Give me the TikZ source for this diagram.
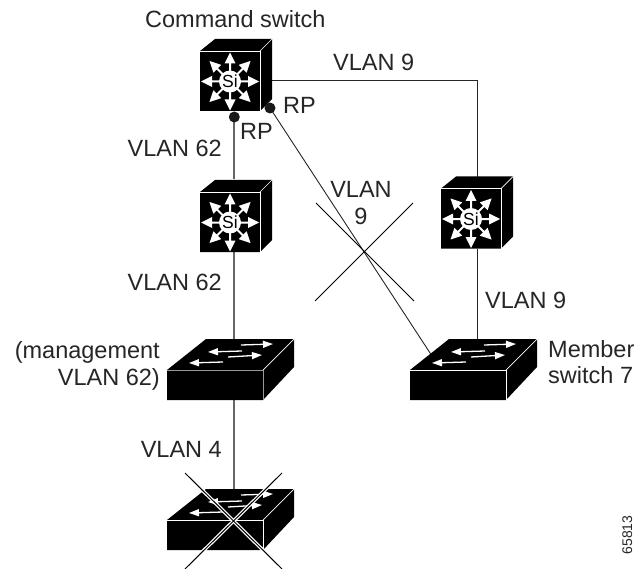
\documentclass[tikz,border=0pt]{standalone}
\usepackage{fontspec}
\setmainfont{Liberation Sans}
\usetikzlibrary{arrows.meta}
\tikzset{
  lbl/.style={font=\fontsize{23.5}{27}\selectfont, inner sep=0pt, text=black!85},
  wire/.style={draw=black!60, line width=1.7pt},
  thinwire/.style={draw=black!85, line width=.9pt},
  cross/.style={draw=black, line width=1pt},
  rpdot/.style={circle, fill=black!90, inner sep=0pt, minimum size=11pt},
  pt/.style={inner sep=0pt, outer sep=0pt, minimum size=0pt},
  swarrow/.style={draw=white, line width=1.3pt, -{Triangle[length=10pt,width=7pt,fill=white]}},
}
\newcommand{\siswitch}[3]{%
 \begin{scope}[shift={(#1,#2)}]
  \fill[black] (0,0) -- (15,-12) -- (72,-12) -- (72,48) -- (60,60) -- (0,60) -- cycle;
  \draw[white, line width=.7pt] (0,0) -- (60,0) -- (60,60);
  \draw[white, line width=.7pt] (60,0) -- (72,-12);
  \foreach \a in {0,45,...,315}{
    \begin{scope}[shift={(30,30.5)}, rotate=\a]
      \fill[white] (8,-1) -- (18,-1) -- (18,-5.5) -- (29,0) -- (18,5.5) -- (18,1) -- (8,1) -- cycle;
    \end{scope}}
  \node[circle, fill=white, inner sep=0pt, minimum size=22pt, font=\fontsize{17.5}{17.5}\selectfont] (#3) at (30,30.5) {Si};
 \end{scope}}
\newcommand{\flatswitch}[4]{%
 \begin{scope}[shift={(#1,#2)}]
  \fill[black] (0,31) -- (39,0) -- (127,0) -- (127,28) -- (96,61) -- (0,61) -- cycle;
  \draw[#4, line width=.9pt] (0,31) -- (96,31) -- (96,61);
  \draw[white, line width=.7pt] (96,31) -- (127,0);
  \draw[swarrow] (74,6) -- (106,5);
  \draw[swarrow] (75,12) -- (41,13);
  \draw[swarrow] (61,18) -- (95,16);
  \draw[swarrow] (56,23) -- (22,24);
 \end{scope}}
\begin{document}
\begin{tikzpicture}[x=1pt,y=-1pt]
\useasboundingbox (0,0) rectangle (636,569);
\fill[white] (0,0) rectangle (636,569);
% wire end points
\coordinate (rpa) at (234.3,117);
\coordinate (rpb) at (270,108);
\node[pt] (s2t) at (234.3,179) {};
\node[pt] (s2b) at (234.3,252) {};
\node[pt] (f1t) at (234.3,340) {};
\node[pt] (f1b) at (234.3,400) {};
\node[pt] (f3t) at (234.3,490) {};
\node[pt] (s3t) at (477,178) {};
\node[pt] (s1r) at (272,80) {};
\node[pt] (corner) at (477,80) {};
\node[pt] (s3b) at (477,249) {};
\node[pt] (f2t) at (477,340) {};
\node[pt] (f2a) at (432,356) {};
\draw[wire] (rpa) -- (s2t);
\draw[wire] (s2b) -- (f1t);
\draw[wire] (f1b) -- (f3t);
\draw[thinwire] (s1r) -- (corner) -- (s3t);
\draw[thinwire] (s3b) -- (f2t);
\draw[thinwire] (rpb) -- (f2a);
% devices
\siswitch{200}{51}{si1}
\siswitch{200}{192}{si2}
\siswitch{441}{188.5}{si3}
\flatswitch{167}{339}{sw1}{black!40}
\flatswitch{410}{339}{sw2}{white}
\flatswitch{167}{489}{sw3}{white}
\node[rpdot] (d1) at (rpa) {};
\node[rpdot] (d2) at (rpb) {};
% crosses
\coordinate (c1a) at (316,203);\coordinate (c1b) at (414,301);
\coordinate (c2a) at (413,203);\coordinate (c2b) at (315,301);
\draw[cross] (c1a) -- (c1b);
\draw[cross] (c2a) -- (c2b);
\coordinate (c3a) at (185,473);\coordinate (c3b) at (282,569);
\coordinate (c4a) at (282,473);\coordinate (c4b) at (185,569);
\draw[white, line width=3.5pt] (c3a) -- (c3b);
\draw[white, line width=3.5pt] (c4a) -- (c4b);
\draw[cross] (c3a) -- (c3b);
\draw[cross] (c4a) -- (c4b);
% labels
\node[lbl, anchor=base west] (t1) at (145,28) {Command switch};
\node[lbl, anchor=base west] (t2) at (333,71) {VLAN 9};
\node[lbl, anchor=base west] (t3) at (283,114) {RP};
\node[lbl, anchor=base west] (t4) at (240,140) {RP};
\node[lbl, anchor=base east] (t5) at (222,157) {VLAN 62};
\node[lbl, anchor=base] (t6) at (361,198) {VLAN};
\node[lbl, anchor=base] (t7) at (361,224) {9};
\node[lbl, anchor=base east] (t8) at (222,290) {VLAN 62};
\node[lbl, anchor=base west] (t9) at (485,308) {VLAN 9};
\node[lbl, anchor=base east] (t10) at (160,358) {(management};
\node[lbl, anchor=base east] (t11) at (160,385) {VLAN 62)};
\node[lbl, anchor=base west] (t12) at (548,357) {Member};
\node[lbl, anchor=base west] (t13) at (548,383) {switch 7};
\node[lbl, anchor=base east] (t14) at (222,457) {VLAN 4};
\node[anchor=base, rotate=90, inner sep=0pt, font=\fontsize{14}{14}\selectfont, text=black!85] (t15) at (632,535) {65813};
\end{tikzpicture}
\end{document}
